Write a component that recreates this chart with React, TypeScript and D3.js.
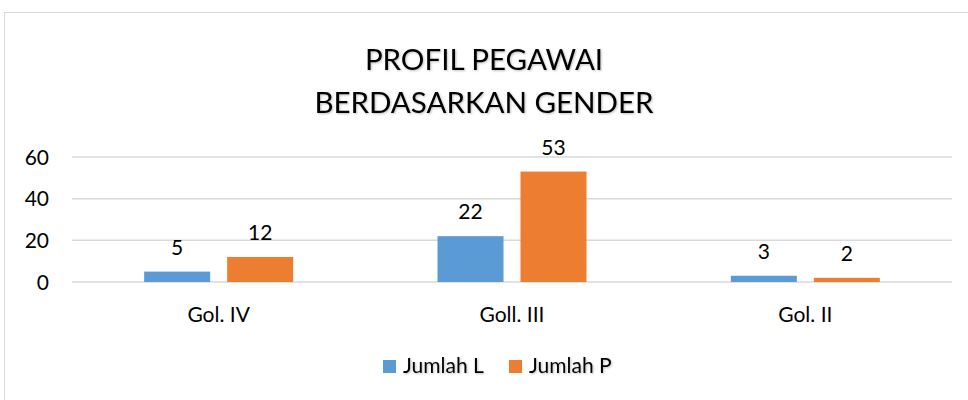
import React from "react";
import * as d3 from "d3";

const categories = ["Gol. IV", "Goll. III", "Gol. II"];
const seriesNames = ["Jumlah L", "Jumlah P"];
const jumlahL = [5, 22, 3];
const jumlahP = [12, 53, 2];
const yTicks = [0, 20, 40, 60];
const titleLines = ["PROFIL PEGAWAI", "BERDASARKAN GENDER"];
const colors = ["#5b9bd5", "#ed7d31"];

const FONT = "Lato, 'Open Sans', sans-serif";

export default function App() {
  const W = 968, H = 400;
  const left = 72, right = 952, top = 157, bottom = 282;
  const x = d3.scaleBand<string>().domain(categories).range([left, right]);
  const y = d3.scaleLinear().domain([0, 60]).range([bottom, top]);
  const barW = 66, gap = 17;
  const series = [jumlahL, jumlahP];

  return (
    <svg width={W} height={H} style={{ position: "absolute", left: 0, top: 0, background: "#fff" }}>
      <defs>
        <filter id="sh" x="-5%" y="-20%" width="110%" height="140%">
          <feDropShadow dx="1" dy="1" stdDeviation="0.8" floodColor="#000" floodOpacity="0.25" />
        </filter>
      </defs>
      <rect x={4.5} y={12.5} width={980} height={420} fill="#fff" stroke="#d9d9d9" strokeWidth={1} />
      {titleLines.map((t, i) => (
        <text key={t} x={484} y={70 + i * 43} textAnchor="middle" fontFamily={FONT} fontSize={29.5} fill="#000" filter="url(#sh)">
          {t}
        </text>
      ))}
      {yTicks.map((v) => (
        <g key={v}>
          <line x1={left} x2={right} y1={y(v)} y2={y(v)} stroke="#d9d9d9" strokeWidth={1.5} />
          <text x={49} y={y(v) + 7.5} textAnchor="end" fontFamily={FONT} fontSize={21} fill="#000">
            {v}
          </text>
        </g>
      ))}
      {categories.map((c, ci) => {
        const cx = (x(c) as number) + x.bandwidth() / 2;
        return (
          <g key={c}>
            {series.map((s, si) => {
              const bx = si === 0 ? cx - gap / 2 - barW : cx + gap / 2;
              return (
                <g key={si}>
                  <rect x={bx} y={y(s[ci])} width={barW} height={y(0) - y(s[ci])} fill={colors[si]} />
                  <text x={bx + barW / 2} y={y(s[ci]) - 17} textAnchor="middle" fontFamily={FONT} fontSize={21} fill="#000">
                    {s[ci]}
                  </text>
                </g>
              );
            })}
            <text x={cx} y={322} textAnchor="middle" fontFamily={FONT} fontSize={21} fill="#000">
              {c}
            </text>
          </g>
        );
      })}
      {seriesNames.map((n, i) => {
        const lx = [383, 509][i];
        return (
          <g key={n}>
            <rect x={lx} y={360} width={13} height={13} fill={colors[i]} />
            <text x={lx + 20} y={373} fontFamily={FONT} fontSize={21} fill="#000" filter="url(#sh)">
              {n}
            </text>
          </g>
        );
      })}
    </svg>
  );
}
